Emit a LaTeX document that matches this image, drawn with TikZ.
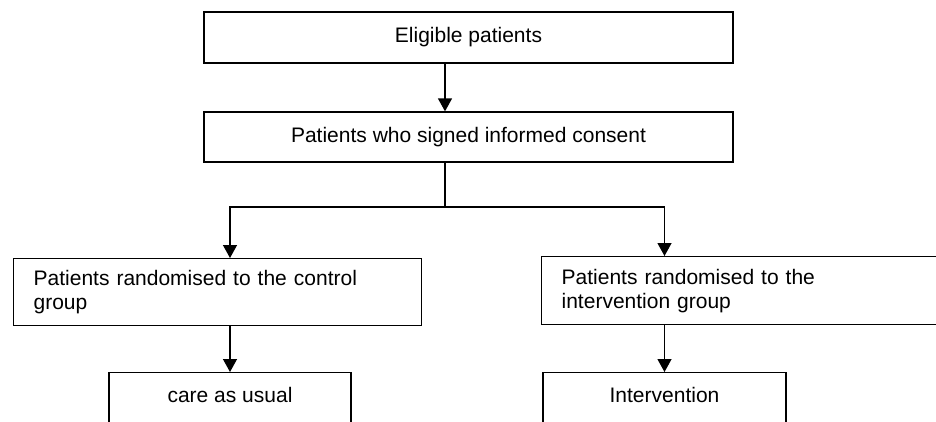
\documentclass[tikz,border=0pt]{standalone}
\usepackage{fontspec}
\setmainfont{Liberation Sans}
\usetikzlibrary{arrows.meta}

\begin{document}
\begin{tikzpicture}[x=1pt,y=-1pt,
  box/.style={draw=black,line width=1.3pt,rectangle,inner sep=0pt,
    font=\fontsize{21}{24}\selectfont,text height=15pt,text depth=5pt},
  widebox/.style={draw=black,line width=1.3pt,rectangle,inner xsep=20pt,inner ysep=0pt,
    align=left,font=\fontsize{21}{24}\selectfont},
  conn/.style={draw=black,line width=1.3pt},
  arr/.style={conn,-{Triangle[width=14pt,length=13pt]}}]

\useasboundingbox (0,0) rectangle (936,421);
\clip (0,0) rectangle (936,421);

% boxes
\node[box,minimum width=529,minimum height=51] (eligible) at (468.5,37.5) {Eligible patients};
\node[box,minimum width=529,minimum height=50] (consent) at (468.5,137) {Patients who signed informed consent};
\node[widebox,anchor=north west,text width=368,minimum height=67] (control) at (13,258)
  {Patients randomised to the control\\group};
\node[widebox,anchor=north west,text width=379,minimum height=68] (interv) at (541,256)
  {Patients randomised to the\\intervention group};
\node[box,anchor=north,minimum width=242,inner ysep=15pt,text depth=24pt] (usual) at (230,372) {care as usual};
\node[box,anchor=north,minimum width=243,inner ysep=15pt,text depth=24pt] (treat) at (664.5,372) {Intervention};

% connectors
\coordinate (split) at (445,207);
\draw[arr] (split |- eligible.south) -- (split |- consent.north);
\draw[conn] (split |- consent.south) -- (split);
\draw[arr] (split) -| (usual.north |- control.north);
\draw[arr] (split) -| (treat.north |- interv.north);
\draw[arr] (usual.north |- control.south) -- (usual.north);
\draw[arr] (treat.north |- interv.south) -- (treat.north);

\end{tikzpicture}
\end{document}
